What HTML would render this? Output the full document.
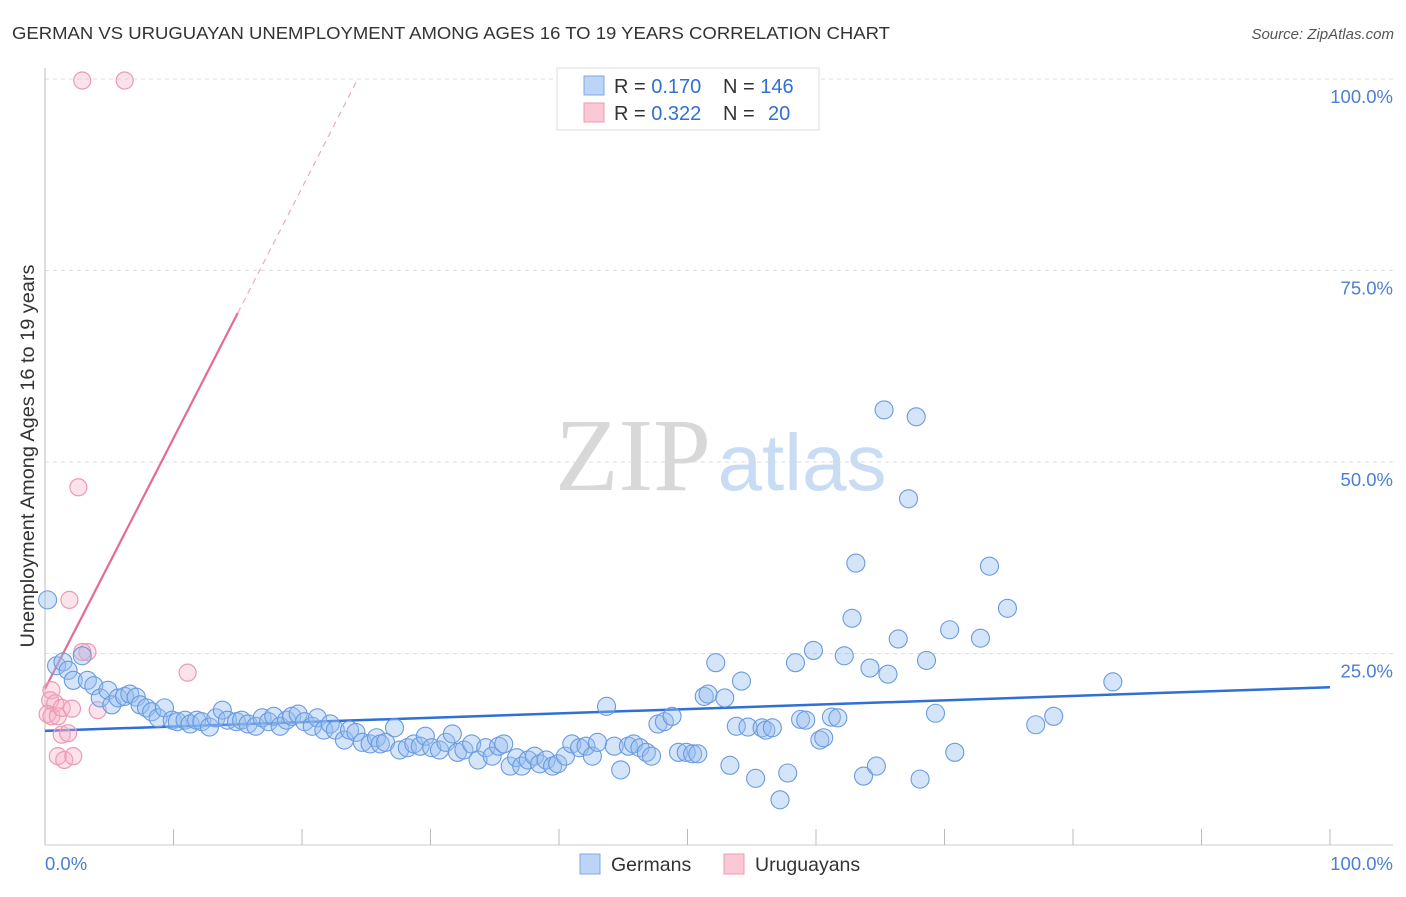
<!DOCTYPE html>
<html><head><meta charset="utf-8"><style>
body{margin:0;background:#fff;font-family:"Liberation Sans",sans-serif;}
svg text{font-family:"Liberation Sans",sans-serif;}
</style></head><body>
<svg id="chart" width="1406" height="892">
<text x="12" y="39" font-size="17.5" fill="#333" textLength="878" lengthAdjust="spacingAndGlyphs">GERMAN VS URUGUAYAN UNEMPLOYMENT AMONG AGES 16 TO 19 YEARS CORRELATION CHART</text>
<text x="1394" y="39" font-size="15" fill="#555" text-anchor="end" font-style="italic">Source: ZipAtlas.com</text>
<g>
<text x="633" y="490" font-size="104" fill="#d8d8d8" text-anchor="middle" style="font-family:'Liberation Serif',serif">ZIP</text>
<text x="802" y="490" font-size="80" fill="#c8dcf3" text-anchor="middle">atlas</text>
</g>
<g id="grid"></g>
<g id="axes"></g>
<g id="trends"></g>
<g id="points"></g>
<text transform="translate(34,456) rotate(-90)" font-size="19" fill="#333" text-anchor="middle" textLength="383" lengthAdjust="spacingAndGlyphs">Unemployment Among Ages 16 to 19 years</text>
<text x="45" y="870" font-size="18.5" fill="#4a7fd4">0.0%</text>
<text x="1393" y="870" font-size="18.5" fill="#4a7fd4" text-anchor="end">100.0%</text>
<g>
<rect x="557" y="68" width="262" height="62" fill="#fff" stroke="#ddd"/>
<rect x="584" y="76" width="20" height="19" fill="#bcd4f6" stroke="#7fa8e4"/>
<rect x="584" y="103" width="20" height="19" fill="#fbc8d6" stroke="#ee9ab2"/>
<text x="614" y="93" font-size="20" fill="#333">R = <tspan fill="#2f6fd6">0.170</tspan></text>
<text x="723" y="93" font-size="20" fill="#333">N = <tspan fill="#2f6fd6">146</tspan></text>
<text x="614" y="120" font-size="20" fill="#333">R = <tspan fill="#2f6fd6">0.322</tspan></text>
<text x="723" y="120" font-size="20" fill="#333">N = <tspan fill="#2f6fd6" x="768">20</tspan></text>
</g>
<g>
<rect x="580" y="854" width="20" height="20" fill="#bcd4f6" stroke="#7fa8e4"/>
<text x="611" y="871" font-size="19.5" fill="#333">Germans</text>
<rect x="724" y="854" width="20" height="20" fill="#fbc8d6" stroke="#ee9ab2"/>
<text x="755" y="871" font-size="19.5" fill="#333">Uruguayans</text>
</g>
</svg>
<script>
const blueX=[0.2,0.9,1.4,1.8,2.2,2.9,3.3,3.8,4.3,4.9,5.2,5.7,6.2,6.6,7.1,7.4,7.9,8.3,8.8,9.3,9.9,10.3,10.9,11.3,11.8,12.2,12.8,13.3,13.8,14.2,14.9,15.3,15.8,16.4,16.9,17.4,17.8,18.3,18.8,19.2,19.7,20.2,20.8,21.2,21.7,22.2,22.6,23.3,23.7,24.2,24.7,25.3,25.8,26.1,26.5,27.2,27.6,28.2,28.7,29.2,29.6,30.1,30.7,31.2,31.7,32.1,32.6,33.2,33.7,34.3,34.8,35.3,35.7,36.2,36.7,37.1,37.6,38.1,38.5,39.0,39.5,39.9,40.5,41.0,41.6,42.1,42.6,43.0,43.7,44.3,44.8,45.4,45.8,46.3,46.8,47.2,47.7,48.2,48.8,49.3,49.9,50.4,50.8,51.3,51.6,52.2,52.9,53.3,53.8,54.2,54.7,55.3,55.8,56.1,56.6,57.8,57.2,58.4,58.8,59.2,59.8,60.3,60.6,61.2,61.7,62.2,62.8,63.1,63.7,64.2,64.7,65.3,65.6,66.4,67.2,67.8,68.1,68.6,69.3,70.4,70.8,72.8,73.5,74.9,77.1,78.5,83.1];
const blueY=[32.0,23.4,23.9,22.8,21.5,24.7,21.5,20.8,19.2,20.2,18.3,19.2,19.4,19.7,19.3,18.3,17.9,17.4,16.6,17.9,16.3,16.1,16.3,15.8,16.3,16.1,15.4,16.6,17.6,16.3,16.1,16.3,15.8,15.5,16.6,16.1,16.8,15.5,16.3,16.8,17.1,16.1,15.5,16.6,15.0,15.8,15.0,13.7,15.0,14.7,13.4,13.2,14.0,13.2,13.4,15.3,12.4,12.7,13.2,12.9,14.2,12.7,12.4,13.4,14.5,12.1,12.4,13.2,11.1,12.7,11.6,12.9,13.2,10.3,11.4,10.3,11.1,11.6,10.6,11.1,10.3,10.6,11.6,13.2,12.7,12.9,11.6,13.4,18.1,12.9,9.8,12.9,13.2,12.7,12.1,11.6,15.8,16.1,16.8,12.1,12.1,11.9,11.9,19.4,19.7,23.8,19.2,10.4,15.5,21.4,15.4,8.7,15.3,15.0,15.3,9.4,5.9,23.8,16.4,16.3,25.4,13.7,14.0,16.7,16.6,24.7,29.6,36.8,9.0,23.1,10.3,56.8,22.3,26.9,45.2,55.9,8.6,24.1,17.2,28.1,12.1,27.0,36.4,30.9,15.7,16.8,21.3];
const pinkX=[2.9,6.2,2.6,1.9,3.3,2.9,11.1,0.5,0.4,0.8,0.2,0.5,1.0,1.3,2.1,4.1,1.3,1.8,1.0,1.5,2.2];
const pinkY=[99.8,99.8,46.7,32.0,25.2,25.2,22.5,20.2,18.9,18.5,17.1,16.8,16.8,17.9,17.8,17.6,14.4,14.6,11.6,11.1,11.6];
const yTicks=[25,50,75,100];
const yTickLabels=["25.0%","50.0%","75.0%","100.0%"];
const xTicks=[0,10,20,30,40,50,60,70,80,90,100];
const blueTrend=[14.9,20.6];
const pinkTrend=[20.4,3.27];
const pinkSolidEnd=15;

const X0=45,X1=1330,Y0=845,Y1=79;
const sx=v=>X0+(X1-X0)*v/100;
const sy=v=>Y0-(Y0-Y1)*v/100;
const NS="http://www.w3.org/2000/svg";
function mk(tag,attrs,parent){const e=document.createElementNS(NS,tag);for(const k in attrs)e.setAttribute(k,attrs[k]);parent.appendChild(e);return e;}
const grid=document.getElementById('grid'),axes=document.getElementById('axes'),trends=document.getElementById('trends'),pts=document.getElementById('points');
yTicks.forEach((t,i)=>{
 const l=mk('line',{x1:X0,x2:1393,y1:sy(t),y2:sy(t),stroke:'#ddd','stroke-dasharray':'4,4'},grid);
 
 
 const tx=mk('text',{x:1393,y:sy(t)+24,'font-size':18.5,fill:'#4a7fd4','text-anchor':'end'},grid);
 tx.textContent=yTickLabels[i];
 
 
});
const ya=mk('line',{x1:X0,x2:X0,y1:68,y2:Y0,stroke:'#bbb'},axes);


const xa=mk('line',{x1:X0,x2:1393,y1:Y0,y2:Y0,stroke:'#ccc'},axes);


xTicks.forEach(t=>{
 const l=mk('line',{x1:sx(t),x2:sx(t),y1:Y0-16,y2:Y0,stroke:'#bbb'},axes);
 
 
});
const bt=mk('line',{x1:sx(0),y1:sy(blueTrend[0]),x2:sx(100),y2:sy(blueTrend[1]),stroke:'#2f6fd6','stroke-width':2.5},trends);


const pEnd=(100-pinkTrend[0])/pinkTrend[1];
const pt1=mk('line',{x1:sx(0),y1:sy(pinkTrend[0]),x2:sx(pinkSolidEnd),y2:sy(pinkTrend[0]+pinkTrend[1]*pinkSolidEnd),stroke:'#e56a95','stroke-width':2.2},trends);


const pt2=mk('line',{x1:sx(pinkSolidEnd),y1:sy(pinkTrend[0]+pinkTrend[1]*pinkSolidEnd),x2:sx(pEnd),y2:sy(100),stroke:'#eeaabd','stroke-width':1.2,'stroke-dasharray':'6,5'},trends);


pinkX.forEach((x,i)=>{
 const c=mk('circle',{cx:sx(x),cy:sy(pinkY[i]),r:8.5,fill:'rgba(247,175,198,0.35)',stroke:'#eb9ab3','stroke-width':1.2},pts);
 
 
});
blueX.forEach((x,i)=>{
 const c=mk('circle',{cx:sx(x),cy:sy(blueY[i]),r:9,fill:'rgba(150,190,240,0.4)',stroke:'#6a9ae0','stroke-width':1.1},pts);
 
 
});
</script>
</body></html>
